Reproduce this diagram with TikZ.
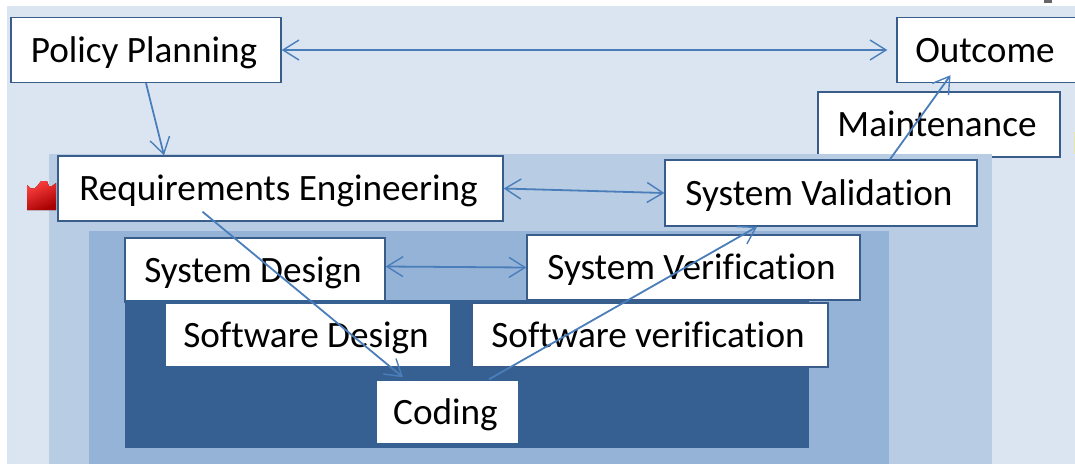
\documentclass[tikz,border=0pt]{standalone}
\usepackage{fontspec}
\setmainfont{Carlito}[Ligatures=NoCommon]
\definecolor{pageblue}{HTML}{DBE5F1}
\definecolor{midblue}{HTML}{B8CCE4}
\definecolor{deepblue}{HTML}{95B3D7}
\definecolor{darkblue}{HTML}{366092}
\definecolor{boxline}{HTML}{385D8A}
\definecolor{arrowblue}{HTML}{4A7EBB}
\usetikzlibrary{arrows.meta}
\tikzset{
    stagebox/.style={draw=boxline, line width=1.4pt, fill=white, inner sep=0pt, text height=24pt, text depth=0pt, font=\fontsize{37.2}{37.2}\selectfont, execute at begin node={\kern-4pt}},
    barb/.tip={Straight Barb[length=16pt,width=20pt,line width=1.4pt]},
    link/.style={draw=arrowblue, line width=1.8pt, -barb},
    linkboth/.style={link, barb-barb}
}
\begin{document}
\begin{tikzpicture}[x=1pt, y=-1pt]
    \useasboundingbox (0,0) rectangle (1075,464);
    \fill[pageblue] (7,6) rectangle (1075,464);
    \fill[black!60] (1044,0) rectangle (1052,3);
    \fill[yellow!30!pageblue] (1074,132) rectangle (1075,154);
    % Maintenance goes under the next layer
    \node[stagebox, minimum width=242, minimum height=65] (maintenance) at (939,124.5) {Maintenance};
    \fill[midblue] (49,154) rectangle (992,464);
    \fill[deepblue] (89,231) rectangle (889,464);
    \node[stagebox, minimum width=260, minimum height=64] (sysdesign) at (255,270) {System Design};
    \fill[darkblue] (125,300) rectangle (809,448);
    \node[stagebox, minimum width=333, minimum height=65] (sysverif) at (693.5,267.5) {System Verification};
    \node[stagebox, draw=darkblue, minimum width=286, minimum height=64] (swdesign) at (308,335) {Software Design};
    \node[stagebox, minimum width=356, minimum height=64] (swverif) at (650,335) {Software verification};
    \node[stagebox, draw=darkblue, minimum width=143, minimum height=64] (coding) at (447.5,412) {Coding};
    \node[stagebox, minimum width=270, minimum height=65] (policy) at (146,50) {Policy Planning};
    \node[stagebox, minimum width=445, minimum height=65] (requirements) at (280.5,188.5) {Requirements Engineering};
    \node[stagebox, minimum width=312, minimum height=66] (validation) at (821,193) {System Validation};
    \node[stagebox, minimum width=180, minimum height=65] (outcome) at (987,50) {Outcome};
    % red mark
    \fill[top color=red!75!white, bottom color=red!65!black, shading angle=25] (27,210) -- (27,185) -- (31,188.5) -- (35,188) -- (38,185) -- (41,181) -- (47,181) -- (49,186) -- (52,186) -- (56,183) -- (56,210) -- cycle;
    % arrows
    \draw[linkboth, shorten >=9pt] (policy.east) -- (outcome.west);
    \draw[link] (policy.south) -- ([xshift=-116.5pt]requirements.north);
    \draw[linkboth] (requirements.east) -- (validation.west);
    \draw[link] ([xshift=-78pt,yshift=10pt]requirements.south) -- ([xshift=-44.5pt,yshift=2pt]coding.north);
    \draw[linkboth] ([yshift=3.5pt]sysdesign.east) -- (sysverif.west);
    \draw[link] ([xshift=41.5pt]coding.north) -- ([xshift=-64pt]validation.south);
    \draw[link] ([xshift=69pt]validation.north) -- ([xshift=-36.5pt,yshift=8pt]outcome.south);
\end{tikzpicture}
\end{document}
